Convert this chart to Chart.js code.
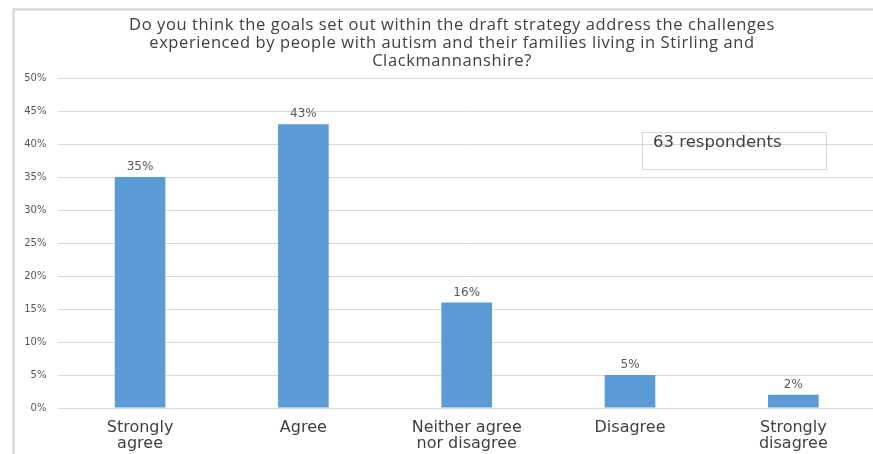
<!DOCTYPE html>
<html>
<head>
<meta charset="utf-8">
<script src="https://cdn.jsdelivr.net/npm/chart.js@4/dist/chart.umd.min.js"></script>
<style>
  html, body { margin: 0; padding: 0; background: #fff; overflow: hidden; }
  #wrap { position: relative; width: 880px; height: 454px; }
</style>
</head>
<body>
<div id="wrap"><canvas id="goalsChart"></canvas></div>
<script>
/* survey question: do the strategy goals address the challenges */

const titleLines = [
  'Do you think the goals set out within the draft strategy address the challenges',
  'experienced by people with autism and their families living in Stirling and',
  'Clackmannanshire?'
];
const answers = [
  ['Strongly', 'agree'],
  'Agree',
  ['Neither agree', 'nor disagree'],
  'Disagree',
  ['Strongly', 'disagree']
];
const shares = [35, 43, 16, 5, 2];   // percent of respondents
const respondentsNote = '63 respondents';

const GRID = '#d9d9d9';
const TEXT = '#404040';
const TICK = '#595959';

// light frame round the whole chart (top and left edges show) plus the heading
const framePlugin = {
  id: 'frame',
  beforeDraw(chart) {
    const c = chart.ctx;
    c.save();
    c.strokeStyle = '#d9d9d9';
    c.lineWidth = 2.5;
    c.beginPath();
    c.moveTo(13.5, 460);
    c.lineTo(13.5, 9.5);
    c.lineTo(890, 9.5);
    c.stroke();

    c.font = '16.5px "Open Sans"';
    c.letterSpacing = '0.6px';
    c.fillStyle = TEXT;
    c.textAlign = 'center';
    c.textBaseline = 'middle';
    titleLines.forEach((line, i) => c.fillText(line, 452, 25 + i * 18));
    c.restore();
  }
};

// percentage above each bar
const barLabels = {
  id: 'barLabels',
  afterDatasetsDraw(chart) {
    const c = chart.ctx;
    const meta = chart.getDatasetMeta(0);
    c.save();
    c.font = '12px "DejaVu Sans"';
    c.fillStyle = TICK;
    c.textAlign = 'center';
    c.textBaseline = 'middle';
    meta.data.forEach((bar, i) => {
      c.fillText(shares[i] + '%', bar.x, bar.y - 10);
    });
    c.restore();
  }
};

// outlined note box in the upper right
const noteBox = {
  id: 'noteBox',
  afterDraw(chart) {
    const c = chart.ctx;
    c.save();
    c.strokeStyle = GRID;
    c.lineWidth = 1;
    c.strokeRect(642.5, 132.5, 184, 37);
    c.font = '16.5px "DejaVu Sans"';
    c.fillStyle = TEXT;
    c.textAlign = 'left';
    c.textBaseline = 'middle';
    c.fillText(respondentsNote, 653, 143);
    c.restore();
  }
};

new Chart(document.getElementById('goalsChart'), {
  type: 'bar',
  data: {
    labels: answers,
    datasets: [{
      data: shares,
      backgroundColor: '#5b9bd5',
      categoryPercentage: 1,
      barPercentage: 0.31
    }]
  },
  options: {
    responsive: true,
    maintainAspectRatio: false,
    animation: false,
    layout: { padding: { left: 0, right: 5, top: 78, bottom: 0 } },
    plugins: {
      legend: { display: false },
      tooltip: { enabled: false },
      title: { display: false }
    },
    scales: {
      x: {
        grid: { display: false, drawTicks: false },
        border: { display: false },
        ticks: {
          color: TEXT,
          padding: 12,
          maxRotation: 0,
          autoSkip: false,
          font: { family: 'DejaVu Sans', size: 16, lineHeight: 1.0 }
        },
        afterFit: s => { s.height = 46; }
      },
      y: {
        min: 0,
        max: 50,
        grid: { color: GRID, drawTicks: false },
        border: { display: false },
        ticks: {
          stepSize: 5,
          padding: 12,
          color: TICK,
          font: { family: 'DejaVu Sans', size: 10 },
          callback: v => v + '%'
        },
        afterFit: s => { s.width = 58.4; }
      }
    }
  },
  plugins: [framePlugin, barLabels, noteBox]
});
</script>
</body>
</html>
